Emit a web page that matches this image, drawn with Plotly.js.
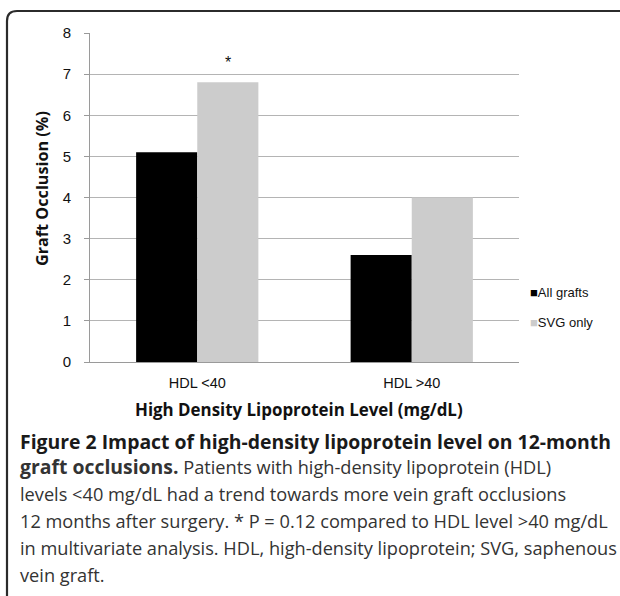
<!DOCTYPE html>
<html>
<head>
<meta charset="utf-8">
<script src="https://cdn.plot.ly/plotly-3.0.1.min.js"></script>
<style>html,body{margin:0;padding:0;background:#fff;}#chart{width:620px;height:596px;}</style>
</head>
<body>
<div id="chart"></div>
<script>
const categories = ['HDL <40', 'HDL >40'];
const allGrafts = [5.1, 2.6];
const svgOnly = [6.8, 4.0];
const seriesNames = ['All grafts', 'SVG only'];
const yTicks = [0, 1, 2, 3, 4, 5, 6, 7, 8];
const captionLines = [
  '<b>Figure 2 Impact of high-density lipoprotein level on 12-month</b>',
  '<b><span style="font-size:19.4px">graft occlusions.</span></b> Patients with high-density lipoprotein (HDL)',
  'levels &lt;40 mg/dL had a trend towards more vein graft occlusions',
  '12 months after surgery. * P = 0.12 compared to HDL level &gt;40 mg/dL',
  'in multivariate analysis. HDL, high-density lipoprotein; SVG, saphenous',
  'vein graft.'
];

const W = 620, H = 596, L = 90, R = 101, T = 33, B = 234;
const pw = W - L - R, ph = H - T - B;
const px = x => (x - L) / pw;
const py = y => (H - B - y) / ph;

const traces = [
  {type: 'bar', x: categories, y: allGrafts, name: seriesNames[0],
   marker: {color: '#000000'}, showlegend: false, hoverinfo: 'skip'},
  {type: 'bar', x: categories, y: svgOnly, name: seriesNames[1],
   marker: {color: '#cccccc'}, showlegend: false, hoverinfo: 'skip'}
];

const capY = [441, 467, 494, 521, 548, 575];
const capSize = [19.4, 18.2, 18.2, 18.2, 18.2, 18.2];
const annotations = captionLines.map((t, i) => ({
  xref: 'paper', yref: 'paper', x: px(18), y: py(capY[i]),
  xanchor: 'left', yanchor: 'middle', showarrow: false, align: 'left',
  text: t, font: {family: 'Open Sans', size: capSize[i], color: i === 0 ? '#1a1a1a' : '#333333'}
}));
annotations.push(
  {xref: 'paper', yref: 'paper', x: px(528), y: py(292), xanchor: 'left', yanchor: 'middle',
   showarrow: false, text: '<span style="color:#000">■</span>' + seriesNames[0],
   font: {family: 'Liberation Sans, Arial', size: 13, color: '#111'}},
  {xref: 'paper', yref: 'paper', x: px(528), y: py(322), xanchor: 'left', yanchor: 'middle',
   showarrow: false, text: '<span style="color:#cccccc">■</span>' + seriesNames[1],
   font: {family: 'Liberation Sans, Arial', size: 13, color: '#111'}},
  {xref: 'x', yref: 'y', x: 0.1425, y: 7.28, showarrow: false, text: '*',
   font: {family: 'Liberation Sans, Arial', size: 16, color: '#111'}},
  {xref: 'paper', yref: 'paper', x: px(299), y: py(409), xanchor: 'center', yanchor: 'middle',
   showarrow: false, text: '<b>High Density Lipoprotein Level (mg/dL)</b>',
   font: {family: 'Open Sans', size: 16.9, color: '#111'}},
  {xref: 'paper', yref: 'paper', x: px(42), y: py(189), xanchor: 'center', yanchor: 'middle',
   showarrow: false, textangle: -90, text: '<b>Graft Occlusion (%)</b>',
   font: {family: 'Open Sans', size: 16.2, color: '#111'}}
);

const b = (x, y) => px(x).toFixed(5) + ',' + py(y).toFixed(5);
const shapes = [{
  type: 'path', xref: 'paper', yref: 'paper',
  path: 'M' + b(7, 600) + ' L' + b(7, 21) + ' Q' + b(7, 11) + ' ' + b(17, 11) + ' L' + b(625, 11),
  line: {color: '#2b2b2b', width: 2.2}
}];

const layout = {
  width: W, height: H,
  margin: {l: L, r: R, t: T, b: B, pad: 0},
  paper_bgcolor: '#ffffff', plot_bgcolor: '#ffffff',
  barmode: 'group', bargap: 0.43, bargroupgap: 0,
  showlegend: false,
  font: {family: 'Liberation Sans, Arial', color: '#111'},
  xaxis: {type: 'category', showline: true, linecolor: '#9a9a9a', linewidth: 1,
          ticks: '', showgrid: false, ticklabelstandoff: 8,
          tickfont: {size: 14.5, color: '#111'}, fixedrange: true},
  yaxis: {range: [0, 8], tickvals: yTicks, ticktext: yTicks.map(String),
          showgrid: true, gridcolor: '#b4b4b4', gridwidth: 1, zeroline: false,
          showline: true, linecolor: '#9a9a9a', ticks: 'outside', ticklen: 5, tickcolor: '#9a9a9a',
          ticklabelstandoff: 10,
          tickfont: {size: 15, color: '#111'}, fixedrange: true},
  annotations: annotations,
  shapes: shapes
};

Plotly.newPlot('chart', traces, layout, {staticPlot: true});
</script>
</body>
</html>
